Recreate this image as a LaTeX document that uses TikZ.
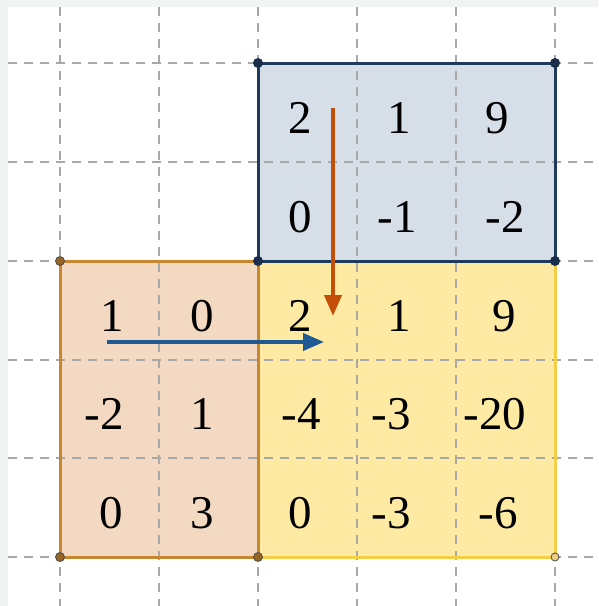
\documentclass[tikz,border=0pt]{standalone}
\usepackage{fontspec}
\setmainfont{Liberation Serif}
\usetikzlibrary{arrows.meta}
\definecolor{bgray}{HTML}{F2F4F4}
\definecolor{gridc}{HTML}{A8A8A8}
\definecolor{bluefill}{HTML}{D6DFE8}
\definecolor{blueline}{HTML}{1E3A5C}
\definecolor{orfill}{HTML}{F3D9C2}
\definecolor{orline}{HTML}{C8862F}
\definecolor{yefill}{HTML}{FEEAA3}
\definecolor{yeline}{HTML}{F2CF45}
\definecolor{arrred}{HTML}{C24E08}
\definecolor{arrblue}{HTML}{1F5A94}
\tikzset{
  num/.style={anchor=base, inner sep=0pt, font=\fontsize{47}{50}\selectfont},
  gridline/.style={gridc, line width=1.3pt, dash pattern=on 9pt off 7pt},
  boxline/.style={line width=3pt, line join=round},
  arr/.style={line width=4pt, -{Triangle[length=21pt,width=17pt]}},
}
\begin{document}
\begin{tikzpicture}[x=1pt,y=-1pt]
\useasboundingbox (0,0) rectangle (598,606);
\fill[bgray] (0,0) rectangle (598,606);
\fill[white] (8,7) rectangle (598,606);
% fills
\fill[yefill] (258,261) rectangle (555,557);
\fill[orfill] (60,261) rectangle (258,557);
\fill[bluefill] (258,63) rectangle (555,261);
% grid
\foreach \x in {60,159,258,357,456,555} \draw[gridline] (\x,7) -- (\x,606);
\foreach \y in {63,162,261,360,458,557} \draw[gridline] (8,\y) -- (598,\y);
% borders
\draw[boxline, yeline] (258,261) rectangle (555,557);
\draw[boxline, orline] (60,261) rectangle (258,557);
\draw[boxline, blueline] (258,63) rectangle (555,261);
% corner dots
\foreach \p in {(258,63),(555,63),(555,261),(258,261)}
  \fill[blueline!80!black] \p circle (5pt);
\foreach \p in {(60,261),(60,557),(258,557)}
  \filldraw[fill=orline!75!black, draw=black!70, line width=0.8pt] \p circle (4.5pt);
\filldraw[fill=yefill!70!orline, draw=black!70, line width=0.8pt] (555,557) circle (4pt);
% numbers - blue
\node[num] (b11) at (300,133) {2};
\node[num] (b12) at (399,133) {1};
\node[num] (b13) at (497,133) {9};
\node[num] (b21) at (300,232) {0};
\node[num] (b22) at (397,232) {-1};
\node[num] (b23) at (505,232) {-2};
% orange
\node[num] (o11) at (112,331) {1};
\node[num] (o12) at (202,331) {0};
\node[num] (o21) at (104,429) {-2};
\node[num] (o22) at (202,429) {1};
\node[num] (o31) at (111,528) {0};
\node[num] (o32) at (202,528) {3};
% yellow
\node[num] (y11) at (300,331) {2};
\node[num] (y12) at (399,331) {1};
\node[num] (y13) at (504,331) {9};
\node[num] (y21) at (301,429) {-4};
\node[num] (y22) at (391,429) {-3};
\node[num] (y23) at (495,429) {-20};
\node[num] (y31) at (300,528) {0};
\node[num] (y32) at (391,528) {-3};
\node[num] (y33) at (498,528) {-6};
% arrows
\coordinate (rs) at (333,108);
\coordinate (re) at (333,316);
\coordinate (bs) at (107,342);
\coordinate (be) at (324,342);
\draw[arr, arrred] (rs) -- (re);
\draw[arr, arrblue] (bs) -- (be);
\end{tikzpicture}
\end{document}
